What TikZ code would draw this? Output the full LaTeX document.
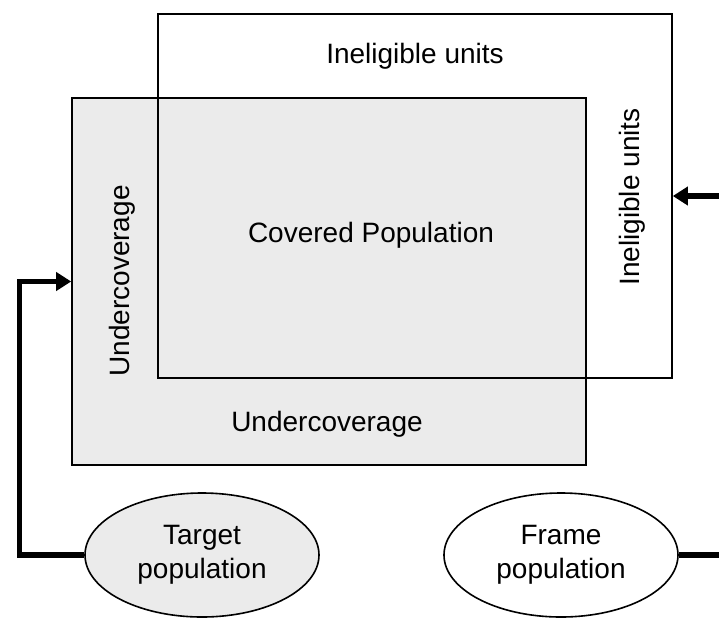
\documentclass[tikz,border=0pt]{standalone}
\usepackage{fontspec}
\setmainfont{Liberation Sans}
\usetikzlibrary{arrows.meta,shapes.geometric}

\begin{document}
\begin{tikzpicture}[
    x=0.5pt,y=-0.5pt,
    area/.style={draw, line width=0.8pt, inner sep=0pt, minimum width=257pt},
    pop/.style={ellipse, draw, line width=0.8pt, minimum width=117pt,
      minimum height=62pt, inner sep=0pt, align=center, lab},
    lab/.style={font=\fontsize{14}{17}\selectfont},
    conn/.style={line width=2.6pt, -{Triangle[length=7.5pt,width=9pt]}}
    ]
    \useasboundingbox (0, 0) rectangle (719, 618);
    \node[area, fill=gray!16, minimum height=183.5pt] (tgtbox) at (329, 281.5) {};
    \node[area, minimum height=182pt] (frmbox) at (415, 196) {};
    \node[lab] (inelTop) at (415, 56) {Ineligible units};
    \node[lab, rotate=90] (inelSide) at (632, 197) {Ineligible units};
    \node[lab] (covered) at (371, 235) {Covered Population};
    \node[lab, rotate=90] (underSide) at (122, 281) {Undercoverage};
    \node[lab] (underBot) at (327, 424) {Undercoverage};
    \node[pop, fill=gray!16] (tgtpop) at (202, 555) {Target\\population};
    \node[pop] (frmpop) at (561, 555) {Frame\\population};
    \draw[conn] (tgtpop.west) -- ++(-65, 0) |- (tgtbox.west);
    \draw[conn] (frmpop.east) -- ++(60, 0) |- (frmbox.east);
  \end{tikzpicture}
\end{document}
